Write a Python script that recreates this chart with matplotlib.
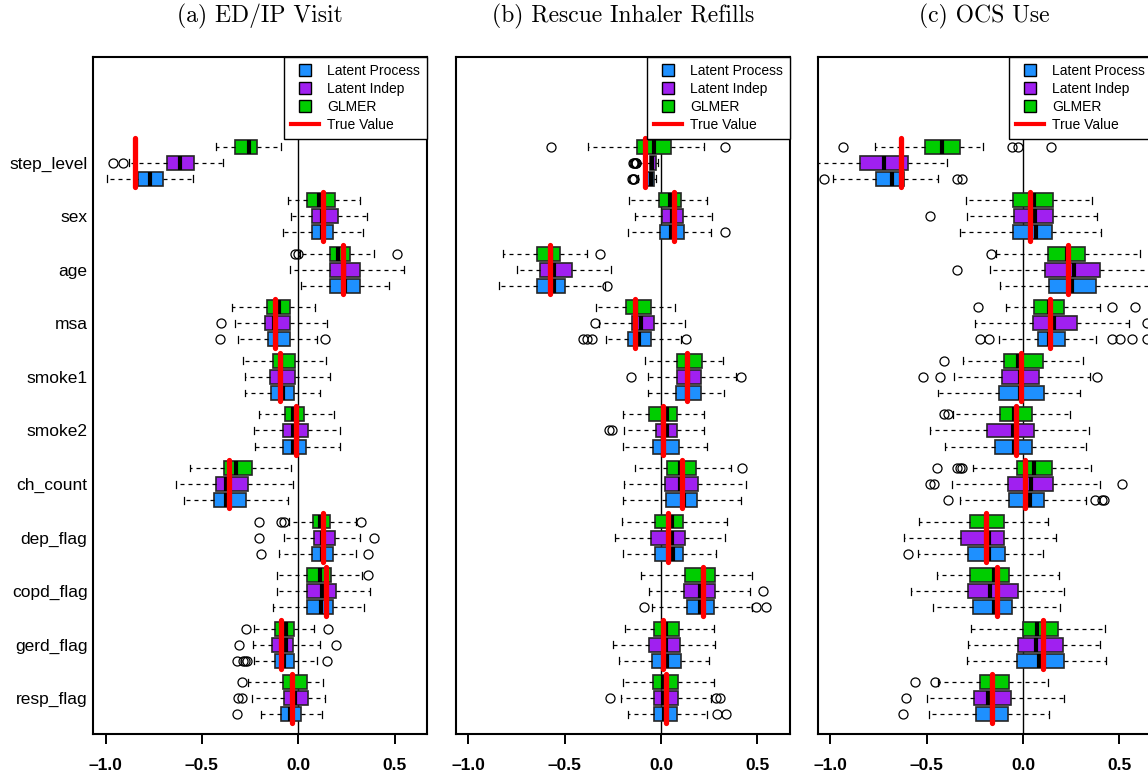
import numpy as np
import matplotlib
matplotlib.use("Agg")
import matplotlib.pyplot as plt
from matplotlib.lines import Line2D

plt.rcParams['font.family'] = ['Liberation Sans', 'DejaVu Sans']

variables = ['step_level', 'sex', 'age', 'msa', 'smoke1', 'smoke2', 'ch_count',
             'dep_flag', 'copd_flag', 'gerd_flag', 'resp_flag']
methods = ['Latent Process', 'Latent Indep', 'GLMER']
method_colors = ['#1E90FF', '#A020F0', '#00CD00']
panel_titles = ['(a) ED/IP Visit', '(b) Rescue Inhaler Refills', '(c) OCS Use']

# five-number rows per variable: whisker low, Q1, median, Q3, whisker high
# ---- (a) ED/IP Visit ----
edip_glmer = [[-0.426, -0.329, -0.253, -0.215, -0.088],
              [-0.055, 0.048, 0.109, 0.189, 0.322],
              [0.010, 0.163, 0.209, 0.270, 0.394],
              [-0.343, -0.163, -0.100, -0.042, 0.085],
              [-0.289, -0.131, -0.088, -0.016, 0.145],
              [-0.202, -0.071, -0.029, 0.031, 0.187],
              [-0.559, -0.386, -0.325, -0.239, -0.038],
              [-0.050, 0.076, 0.114, 0.166, 0.301],
              [-0.109, 0.048, 0.111, 0.170, 0.330],
              [-0.230, -0.118, -0.064, -0.021, 0.080],
              [-0.260, -0.080, -0.031, 0.045, 0.131]]
edip_indep = [[-0.880, -0.682, -0.616, -0.540, -0.389],
              [-0.038, 0.069, 0.123, 0.208, 0.356],
              [-0.042, 0.163, 0.235, 0.322, 0.547],
              [-0.329, -0.173, -0.125, -0.042, 0.149],
              [-0.275, -0.145, -0.097, -0.019, 0.166],
              [-0.228, -0.080, -0.028, 0.052, 0.218],
              [-0.633, -0.427, -0.377, -0.263, -0.029],
              [-0.076, 0.080, 0.125, 0.189, 0.322],
              [-0.109, 0.048, 0.123, 0.194, 0.374],
              [-0.235, -0.138, -0.064, -0.026, 0.114],
              [-0.240, -0.076, -0.016, 0.052, 0.140]]
edip_proc = [[-0.993, -0.834, -0.768, -0.702, -0.547],
             [-0.080, 0.071, 0.123, 0.180, 0.334],
             [0.016, 0.163, 0.244, 0.322, 0.472],
             [-0.315, -0.156, -0.114, -0.042, 0.097],
             [-0.275, -0.142, -0.080, -0.024, 0.114],
             [-0.225, -0.080, -0.028, 0.042, 0.215],
             [-0.592, -0.439, -0.377, -0.272, -0.054],
             [-0.100, 0.069, 0.125, 0.183, 0.301],
             [-0.133, 0.048, 0.118, 0.183, 0.339],
             [-0.232, -0.123, -0.076, -0.022, 0.097],
             [-0.194, -0.090, -0.042, 0.016, 0.125]]
edip_glmer_out = [[], [], [-0.017, -0.003, 0.512], [], [], [], [],
                  [-0.202, -0.090, -0.073, 0.325], [0.360], [-0.273, 0.157], [-0.291]]
edip_indep_out = [[-0.962, -0.907], [], [], [-0.400], [], [], [],
                  [-0.202, 0.394], [], [-0.306, 0.194], [-0.315, -0.294]]
edip_proc_out = [[], [], [], [-0.408, 0.140], [], [], [],
                 [-0.194, 0.360], [], [-0.318, -0.287, -0.275, -0.266, 0.149], [-0.318]]
edip_true = [-0.846, 0.130, 0.232, -0.121, -0.092, -0.010, -0.358, 0.130, 0.142, -0.087, -0.031]

# ---- (b) Rescue Inhaler Refills ----
resc_glmer = [[-0.379, -0.123, -0.036, 0.050, 0.221],
              [-0.168, -0.009, 0.047, 0.104, 0.239],
              [-0.818, -0.644, -0.573, -0.524, -0.382],
              [-0.337, -0.182, -0.131, -0.054, 0.071],
              [-0.083, 0.081, 0.133, 0.215, 0.320],
              [-0.199, -0.061, 0.029, 0.085, 0.223],
              [-0.135, 0.029, 0.099, 0.182, 0.362],
              [-0.204, -0.033, 0.057, 0.116, 0.341],
              [-0.102, 0.126, 0.220, 0.279, 0.474],
              [-0.189, -0.035, 0.024, 0.095, 0.275],
              [-0.196, -0.040, 0.012, 0.088, 0.275]]
resc_indep = [[-0.118, -0.058, -0.045, -0.025, -0.014],
              [-0.133, 0.005, 0.055, 0.116, 0.265],
              [-0.749, -0.628, -0.555, -0.460, -0.258],
              [-0.320, -0.152, -0.106, -0.036, 0.125],
              [-0.066, 0.081, 0.142, 0.208, 0.389],
              [-0.190, -0.028, 0.029, 0.081, 0.223],
              [-0.194, 0.022, 0.099, 0.190, 0.441],
              [-0.240, -0.050, 0.055, 0.125, 0.330],
              [-0.061, 0.121, 0.202, 0.279, 0.462],
              [-0.247, -0.061, 0.026, 0.100, 0.280],
              [-0.206, -0.038, 0.009, 0.090, 0.258]]
resc_proc = [[-0.118, -0.071, -0.050, -0.035, -0.026],
             [-0.173, -0.003, 0.054, 0.121, 0.258],
             [-0.839, -0.642, -0.555, -0.498, -0.291],
             [-0.285, -0.170, -0.114, -0.054, 0.102],
             [-0.067, 0.078, 0.137, 0.206, 0.327],
             [-0.199, -0.042, 0.009, 0.095, 0.240],
             [-0.199, 0.024, 0.121, 0.187, 0.413],
             [-0.197, -0.031, 0.064, 0.116, 0.285],
             [-0.045, 0.133, 0.202, 0.273, 0.471],
             [-0.218, -0.045, 0.029, 0.106, 0.251],
             [-0.173, -0.036, 0.016, 0.083, 0.240]]
resc_glmer_out = [[-0.573, 0.334], [], [-0.315], [], [], [], [0.420], [], [], [], []]
resc_indep_out = [[-0.145, -0.140, -0.136, -0.132, -0.128], [], [], [-0.341],
                  [-0.157, 0.417], [-0.268, -0.254], [], [], [0.528], [],
                  [-0.263, 0.287, 0.306]]
resc_proc_out = [[-0.150, -0.143, -0.138], [0.334], [-0.282],
                 [-0.403, -0.386, -0.360, 0.130], [], [], [], [],
                 [-0.088, 0.493, 0.545], [], [0.292, 0.336]]
resc_true = [-0.083, 0.069, -0.574, -0.135, 0.137, 0.012, 0.107, 0.036, 0.220, 0.012, 0.024]

# ---- (c) OCS Use ----
ocs_glmer = [[-0.768, -0.507, -0.420, -0.329, -0.209],
             [-0.296, -0.052, 0.055, 0.156, 0.358],
             [-0.138, 0.128, 0.228, 0.322, 0.609],
             [-0.090, 0.059, 0.133, 0.211, 0.401],
             [-0.311, -0.097, -0.028, 0.104, 0.310],
             [-0.363, -0.121, -0.048, 0.045, 0.242],
             [-0.260, -0.031, 0.055, 0.151, 0.353],
             [-0.538, -0.277, -0.192, -0.100, 0.128],
             [-0.445, -0.273, -0.151, -0.074, 0.185],
             [-0.268, 0.000, 0.073, 0.182, 0.427],
             [-0.439, -0.223, -0.161, -0.074, 0.130]]
ocs_indep = [[-1.100, -0.848, -0.720, -0.599, -0.394],
             [-0.291, -0.048, 0.061, 0.156, 0.384],
             [-0.170, 0.114, 0.263, 0.401, 0.700],
             [-0.251, 0.052, 0.159, 0.280, 0.548],
             [-0.356, -0.111, -0.017, 0.083, 0.349],
             [-0.483, -0.189, -0.054, 0.055, 0.341],
             [-0.367, -0.080, 0.043, 0.154, 0.398],
             [-0.619, -0.320, -0.176, -0.099, 0.170],
             [-0.580, -0.287, -0.171, -0.026, 0.211],
             [-0.287, -0.028, 0.069, 0.206, 0.401],
             [-0.498, -0.256, -0.183, -0.062, 0.211]]
ocs_proc = [[-0.986, -0.765, -0.682, -0.619, -0.439],
            [-0.325, -0.052, 0.067, 0.151, 0.407],
            [-0.121, 0.133, 0.256, 0.381, 0.700],
            [-0.125, 0.076, 0.133, 0.220, 0.377],
            [-0.441, -0.125, -0.017, 0.107, 0.294],
            [-0.403, -0.145, -0.048, 0.045, 0.325],
            [-0.325, -0.071, 0.035, 0.107, 0.327],
            [-0.547, -0.285, -0.176, -0.092, 0.102],
            [-0.469, -0.260, -0.152, -0.059, 0.194],
            [-0.292, -0.031, 0.083, 0.211, 0.433],
            [-0.486, -0.244, -0.163, -0.080, 0.133]]
ocs_glmer_out = [[-0.934, -0.055, -0.028, 0.145], [], [-0.166], [-0.235, 0.464, 0.583],
                 [-0.408], [-0.408, -0.391], [-0.445, -0.343, -0.325, -0.315], [], [], [],
                 [-0.562, -0.457]]
ocs_indep_out = [[], [-0.484], [-0.343], [0.644], [-0.519, -0.433, 0.384], [],
                 [-0.484, -0.464, 0.514], [], [], [], [-0.606]]
ocs_proc_out = [[-1.031, -0.343, -0.318], [], [], [-0.221, -0.176, 0.462, 0.502, 0.566, 0.644],
                [], [], [-0.389, 0.375, 0.410, 0.422], [-0.595], [], [], [-0.625]]
ocs_true = [-0.635, 0.038, 0.232, 0.138, -0.010, -0.038, 0.012, -0.192, -0.133, 0.104, -0.161]

panels = [
    (edip_proc, edip_indep, edip_glmer, edip_proc_out, edip_indep_out, edip_glmer_out, edip_true),
    (resc_proc, resc_indep, resc_glmer, resc_proc_out, resc_indep_out, resc_glmer_out, resc_true),
    (ocs_proc, ocs_indep, ocs_glmer, ocs_proc_out, ocs_indep_out, ocs_glmer_out, ocs_true),
]


def make_stats(rows, outs):
    stats = []
    for r, o in zip(rows, outs):
        stats.append({'whislo': r[0], 'q1': r[1], 'med': r[2], 'q3': r[3],
                      'whishi': r[4], 'fliers': np.array(o, dtype=float)})
    return stats


fig = plt.figure(figsize=(11.48, 7.83), dpi=100)
lefts = [0.081, 0.397, 0.7123]
centers = np.arange(len(variables), 0, -1)  # step_level on top
offsets = [-0.3, 0.0, 0.3]  # process bottom, indep middle, glmer top

for p, (lft, data) in enumerate(zip(lefts, panels)):
    ax = fig.add_axes([lft, 0.0626, 0.2909, 0.865])
    ax.axvline(0, color='black', lw=1.0, zorder=1)
    for m in range(3):
        stats = make_stats(data[m], data[m + 3])
        ax.bxp(stats, positions=centers + offsets[m], orientation='horizontal',
               widths=0.26, capwidths=0.13, patch_artist=True, manage_ticks=False,
               boxprops=dict(facecolor=method_colors[m], edgecolor='#262626', lw=1.2),
               medianprops=dict(color='black', lw=3, solid_capstyle='butt'),
               whiskerprops=dict(color='black', lw=0.9, linestyle=(0, (3.2, 3.2))),
               capprops=dict(color='black', lw=0.9),
               flierprops=dict(marker='o', markerfacecolor='none', markeredgecolor='black',
                               markersize=6.5, markeredgewidth=0.9))
    for c, tv in zip(centers, data[6]):
        ax.plot([tv, tv], [c - 0.455, c + 0.455], color='#FF0000', lw=3.8,
                solid_capstyle='round', zorder=5)

    ax.set_xlim(-1.065, 0.668)
    ax.set_ylim(0.333, 12.98)
    ax.set_xticks([-1.0, -0.5, 0.0, 0.5])
    ax.set_xticklabels(['\u20131.0', '\u20130.5', '0.0', '0.5'], fontweight='bold', fontsize=12.5)
    ax.tick_params(axis='x', length=7, width=1.4, pad=10, direction='out')
    ax.set_yticks(centers)
    if p == 0:
        ax.set_yticklabels(variables, fontsize=12.5)
        ax.tick_params(axis='y', length=0, pad=4)
    else:
        ax.set_yticklabels([])
        ax.tick_params(axis='y', length=0)
    for sp in ax.spines.values():
        sp.set_linewidth(1.5)
    ax.set_title(panel_titles[p], fontfamily='cmr10', fontsize=17, pad=25)

    handles = [Line2D([], [], marker='s', linestyle='none', markersize=8,
                      markerfacecolor=col, markeredgecolor='black', markeredgewidth=1.0)
               for col in method_colors]
    handles.append(Line2D([], [], color='#FF0000', lw=3))
    leg = ax.legend(handles, methods + ['True Value'], loc='upper right',
                    fontsize=10, frameon=True, fancybox=False, framealpha=1,
                    edgecolor='black', borderaxespad=0, handlelength=2.0,
                    handletextpad=0.6, labelspacing=0.3, borderpad=0.5)
    leg.get_frame().set_linewidth(1.0)
    leg.set_zorder(10)

fig.savefig('out.png', dpi=100)
